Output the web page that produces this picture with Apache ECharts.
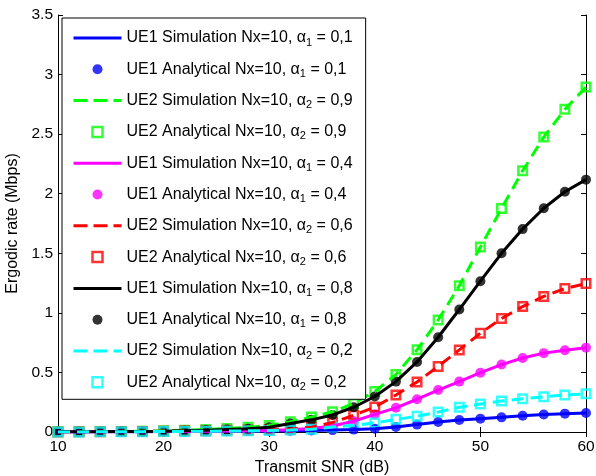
<!DOCTYPE html>
<html>
<head>
<meta charset="utf-8">
<script src="https://cdn.jsdelivr.net/npm/echarts@6/dist/echarts.min.js"></script>
<style>html,body{margin:0;padding:0;background:#fff;}#c{width:596px;height:476px;}</style>
</head>
<body>
<div id="c"></div>
<script>
const snr = [10,12,14,16,18,20,22,24,26,28,30,32,34,36,38,40,42,44,46,48,50,52,54,56,58,60];
const ue1Alpha01 = [0.001,0.001,0.002,0.002,0.003,0.004,0.005,0.006,0.007,0.008,0.009,0.011,0.013,0.016,0.02,0.028,0.042,0.062,0.084,0.100,0.112,0.123,0.136,0.147,0.154,0.160];
const ue2Alpha09 = [0.002,0.003,0.004,0.005,0.007,0.01,0.015,0.022,0.03,0.04,0.055,0.085,0.125,0.17,0.24,0.34,0.482,0.69,0.94,1.228,1.552,1.876,2.192,2.475,2.708,2.895];
const ue1Alpha04 = [0.001,0.001,0.002,0.002,0.003,0.004,0.005,0.006,0.008,0.01,0.013,0.018,0.03,0.05,0.09,0.148,0.203,0.275,0.352,0.423,0.498,0.566,0.621,0.662,0.686,0.708];
const ue2Alpha06 = [0.001,0.002,0.003,0.004,0.005,0.006,0.008,0.011,0.014,0.017,0.02,0.025,0.04,0.08,0.14,0.21,0.31,0.42,0.55,0.689,0.829,0.952,1.053,1.138,1.204,1.246];
const ue1Alpha08 = [0.002,0.002,0.003,0.004,0.005,0.007,0.01,0.014,0.02,0.028,0.04,0.072,0.102,0.143,0.208,0.298,0.423,0.588,0.795,1.028,1.266,1.5,1.703,1.878,2.016,2.118];
const ue2Alpha02 = [0.001,0.001,0.002,0.002,0.003,0.004,0.005,0.006,0.008,0.01,0.012,0.016,0.023,0.042,0.056,0.076,0.106,0.132,0.168,0.207,0.235,0.26,0.279,0.295,0.311,0.32];

const yTicks = [0, 0.5, 1, 1.5, 2, 2.5, 3, 3.5];
const xTicks = [10, 20, 30, 40, 50, 60];

// curves: user, alpha index, alpha value text, values, colour
const curves = [
  {ue: 'UE1', ai: '1', av: '0,1', values: ue1Alpha01, color: '#0000ff'},
  {ue: 'UE2', ai: '2', av: '0,9', values: ue2Alpha09, color: '#00ff00'},
  {ue: 'UE1', ai: '1', av: '0,4', values: ue1Alpha04, color: '#ff00ff'},
  {ue: 'UE2', ai: '2', av: '0,6', values: ue2Alpha06, color: '#ff0000'},
  {ue: 'UE1', ai: '1', av: '0,8', values: ue1Alpha08, color: '#000000'},
  {ue: 'UE2', ai: '2', av: '0,2', values: ue2Alpha02, color: '#00ffff'}
];

const FONT = 'Liberation Sans, Arial, Helvetica, sans-serif';
const series = [];
const legendData = [];
const richMap = {};
curves.forEach(c => {
  const pts = snr.map((x, i) => [x, c.values[i]]);
  const isUE2 = c.ue === 'UE2';
  ['Simulation', 'Analytical'].forEach(kind => {
    const name = c.ue + ' ' + kind + ' Nx=10, α' + c.ai + ' = ' + c.av;
    richMap[name] = '{t|' + c.ue + ' ' + kind + ' Nx=10, α}{s|' + c.ai + '}{t| = ' + c.av + '}';
    if (kind === 'Simulation') {
      series.push({
        name, type: 'line', data: pts, symbol: 'none', smooth: false,
        color: c.color,
        lineStyle: {color: c.color, width: 3, type: isUE2 ? [12, 7] : 'solid'},
        itemStyle: {color: c.color}
      });
      legendData.push({name, itemStyle: {opacity: 0},
        lineStyle: {width: 3, color: c.color, type: isUE2 ? [14, 6] : 'solid'}});
    } else {
      if (isUE2) {
        series.push({
          name, type: 'scatter', data: pts, symbol: 'rect', symbolSize: 8.5,
          color: c.color,
          itemStyle: {color: 'rgba(255,255,255,0)', borderColor: c.color, borderWidth: 2.5}
        });
        legendData.push({name, icon: 'path://M0,0H10V10H0Z',
          itemStyle: {color: 'rgba(255,255,255,0)', borderColor: c.color, borderWidth: 2.5}});
      } else {
        series.push({
          name, type: 'scatter', data: pts, symbol: 'circle', symbolSize: 10,
          color: c.color,
          itemStyle: {color: c.color}
        });
        legendData.push({name, icon: 'circle'});
      }
    }
  });
});

const chart = echarts.init(document.getElementById('c'), null, {renderer: 'canvas'});
const axisCommon = {
  axisLine: {show: true, lineStyle: {color: '#000', width: 1}},
  axisTick: {show: true, inside: true, length: 5, lineStyle: {color: '#000'}},
  splitLine: {show: false}
};
chart.setOption({
  animation: false,
  backgroundColor: '#fff',
  textStyle: {fontFamily: FONT},
  grid: {left: 58, right: 10, top: 15, bottom: 44, containLabel: false, outerBoundsMode: 'none'},
  xAxis: [
    Object.assign({
      type: 'value', min: xTicks[0], max: xTicks[xTicks.length - 1], interval: xTicks[1] - xTicks[0],
      position: 'bottom',
      name: 'Transmit SNR (dB)', nameLocation: 'middle', nameGap: 23,
      nameTextStyle: {fontSize: 16, color: '#000', fontFamily: FONT},
      axisLabel: {fontSize: 15.5, color: '#000', margin: 7, fontFamily: FONT}
    }, axisCommon),
    Object.assign({
      type: 'value', min: xTicks[0], max: xTicks[xTicks.length - 1], interval: xTicks[1] - xTicks[0],
      position: 'top', axisLabel: {show: false}
    }, axisCommon)
  ],
  yAxis: [
    Object.assign({
      type: 'value', min: yTicks[0], max: yTicks[yTicks.length - 1], interval: yTicks[1] - yTicks[0],
      position: 'left',
      name: 'Ergodic rate (Mbps)', nameLocation: 'middle', nameGap: 32,
      nameTextStyle: {fontSize: 16, color: '#000', fontFamily: FONT},
      axisLabel: {fontSize: 15.5, color: '#000', margin: 5, fontFamily: FONT}
    }, axisCommon),
    Object.assign({
      type: 'value', min: yTicks[0], max: yTicks[yTicks.length - 1], interval: yTicks[1] - yTicks[0],
      position: 'right', axisLabel: {show: false}
    }, axisCommon)
  ],
  legend: {
    orient: 'vertical', left: 62, top: 18,
    padding: [12, 13, 7, 10],
    itemWidth: 48, itemHeight: 10, itemGap: 13.3,
    borderColor: '#000', borderWidth: 1, backgroundColor: '#fff',
    selectedMode: false,
    data: legendData,
    formatter: name => richMap[name],
    textStyle: {
      color: '#000', fontFamily: FONT,
      rich: {
        t: {fontSize: 16, lineHeight: 20, color: '#000', fontFamily: FONT},
        s: {fontSize: 11, lineHeight: 7, verticalAlign: 'bottom', color: '#000', fontFamily: FONT}
      }
    }
  },
  series: series
});
</script>
</body>
</html>
